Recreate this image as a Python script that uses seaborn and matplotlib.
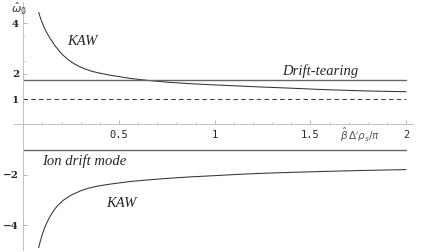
import numpy as np
import pandas as pd
import seaborn as sns
import matplotlib.pyplot as plt
from matplotlib.ticker import FixedLocator

# values
kaw_up_x = [0.08, 0.09, 0.10, 0.11, 0.122, 0.14, 0.166, 0.19, 0.209, 0.235, 0.261, 0.29, 0.32,
            0.35, 0.385, 0.45, 0.5, 0.557, 0.65, 0.75, 0.87, 1.0, 1.12, 1.236, 1.4, 1.585, 1.8, 2.0]
kaw_up_y = [4.44, 4.20, 4.00, 3.82, 3.64, 3.40, 3.11, 2.88, 2.73, 2.56, 2.42, 2.30, 2.20,
            2.12, 2.05, 1.95, 1.89, 1.82, 1.74, 1.67, 1.61, 1.56, 1.52, 1.48, 1.43, 1.37, 1.32, 1.29]
kaw_lo_x = [0.08, 0.09, 0.10, 0.11, 0.122, 0.14, 0.157, 0.18, 0.21, 0.25, 0.30, 0.34, 0.385,
            0.45, 0.5, 0.56, 0.65, 0.75, 0.87, 1.0, 1.12, 1.24, 1.4, 1.585, 1.8, 2.0]
kaw_lo_y = [-4.9, -4.6, -4.35, -4.13, -3.92, -3.65, -3.44, -3.22, -3.01, -2.81, -2.64, -2.54, -2.46,
            -2.38, -2.33, -2.27, -2.21, -2.15, -2.09, -2.04, -1.99, -1.95, -1.91, -1.87, -1.83, -1.80]
drift_tearing = 1.75
dashed_level = 1.0
ion_drift = -1.02
line_x = [0.0, 2.0]

x_ticks = [0.5, 1, 1.5, 2]
x_ticklabels = ['0.5', '1', '1.5', '2']
y_ticks = [4, 2, 1, -2, -4]
y_ticklabels = ['4', '2', '1', '\u22122', '\u22124']

sns.set_style('white')

fig = plt.figure(figsize=(4.26, 2.52), dpi=100)
ax = fig.add_axes([0, 0, 1, 1])

up = pd.DataFrame({'x': kaw_up_x, 'y': kaw_up_y})
lo = pd.DataFrame({'x': kaw_lo_x, 'y': kaw_lo_y})
sns.lineplot(data=up, x='x', y='y', ax=ax, color='#333333', lw=0.75, estimator=None, sort=False)
sns.lineplot(data=lo, x='x', y='y', ax=ax, color='#333333', lw=0.75, estimator=None, sort=False)
sns.lineplot(x=line_x, y=[drift_tearing] * 2, ax=ax, color='#666666', lw=1.0)
sns.lineplot(x=line_x, y=[ion_drift] * 2, ax=ax, color='#666666', lw=1.0)
sns.lineplot(x=line_x, y=[dashed_level] * 2, ax=ax, color='#444444', lw=0.8, linestyle=(0, (4, 3)))

ax.set_xlim(-0.122, 2.104)
ax.set_ylim(-5.07, 4.93)

# Mathematica style axes through origin
for s in ['top', 'right']:
    ax.spines[s].set_visible(False)
ax.spines['left'].set_position(('data', 0))
ax.spines['bottom'].set_position(('data', 0))
ax.spines['left'].set_bounds(-5.0, 4.85)
ax.spines['bottom'].set_bounds(-0.05, 2.036)
for s in ['left', 'bottom']:
    ax.spines[s].set_color('#c0c0c0')
    ax.spines[s].set_linewidth(0.7)

ax.set_xlabel('')
ax.set_ylabel('')
ax.set_xticks(x_ticks)
ax.set_xticklabels(x_ticklabels, family='DejaVu Sans Mono', fontsize=7.5)
ax.set_yticks(y_ticks)
ax.set_yticklabels(y_ticklabels, family='DejaVu Serif', fontsize=7.5, fontweight='bold')
ax.xaxis.set_minor_locator(FixedLocator([v / 10 for v in range(1, 21) if v % 5]))
ax.yaxis.set_minor_locator(FixedLocator([3.5, 2.5]))
ax.tick_params(axis='x', which='both', direction='in', color='#aaaaaa', pad=4)
ax.tick_params(axis='y', which='both', direction='in', color='#aaaaaa', pad=3)
ax.tick_params(which='major', length=3, width=0.6)
ax.tick_params(which='minor', length=1.5, width=0.5)
ax.tick_params(axis='x', which='both', bottom=True, labelbottom=True)
ax.tick_params(axis='y', which='both', left=True)

tfont = dict(family='Liberation Serif', style='italic', fontsize=10.5)
ax.text(0.31, 3.3, 'KAW', ha='center', va='center', **tfont)
ax.text(1.55, 2.1, 'Drift-tearing', ha='center', va='center', **tfont)
ax.text(0.1, -1.45, 'Ion drift mode', ha='left', va='center', **tfont)
ax.text(0.51, -3.15, 'KAW', ha='center', va='center', **tfont)

ax.text(1.76, -0.42, r'$\hat{\beta}\,\Delta^{\prime}\rho_s/\pi$', ha='center', va='center',
        fontsize=7.5, color='#555555')
ax.text(-0.025, 4.58, r'$\hat{\omega}_0$', ha='center', va='center', fontsize=8, color='#333333')

fig.savefig('out.png', dpi=100)
